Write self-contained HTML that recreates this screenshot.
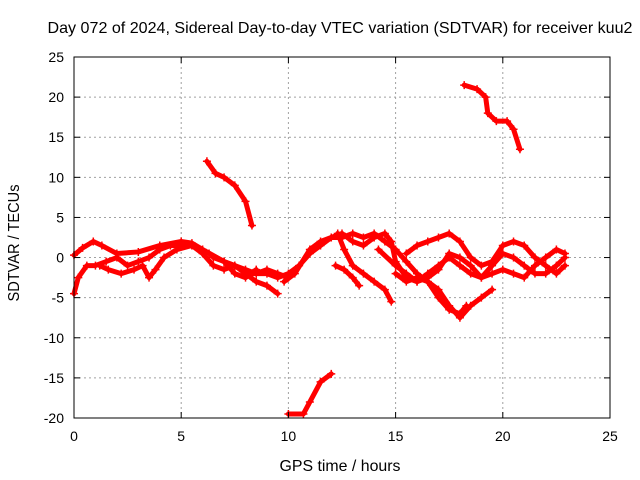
<!DOCTYPE html>
<html><head><meta charset="utf-8"><style>
body{margin:0;background:#fff;}
svg{display:block;font-family:"Liberation Sans",sans-serif;}
</style></head><body>
<svg id="chart" width="640" height="480" viewBox="0 0 640 480">
<rect width="640" height="480" fill="#fff"/>
<text x="340" y="33" font-size="16" text-anchor="middle" textLength="585" lengthAdjust="spacingAndGlyphs">Day 072 of 2024, Sidereal Day-to-day VTEC variation (SDTVAR) for receiver kuu2</text>
<text x="340" y="471" font-size="16" text-anchor="middle" textLength="121" lengthAdjust="spacingAndGlyphs">GPS time / hours</text>
<text transform="translate(19,243) rotate(-90)" font-size="16" text-anchor="middle" textLength="117" lengthAdjust="spacingAndGlyphs">SDTVAR / TECUs</text>
<g id="grid"></g><g id="series"></g><g id="axes"></g>
</svg>
<script>
const xTicks=[0,5,10,15,20,25];
const yTicks=[-20,-15,-10,-5,0,5,10,15,20,25];
const trackA=[[0,0.3],[0.4,1.2],[0.9,2],[1.3,1.5],[2,0.5],[3,0.7],[4,1.5],[5,2],[5.5,1.8],[6,1],[7,-0.5],[8,-1.5],[8.5,-2],[9,-1.5],[9.5,-2],[10,-2.5]];
const trackB=[[0,-4.5],[0.2,-2.5],[0.6,-1],[1,-1],[1.5,-0.5],[2,0],[2.5,-1],[3,-0.5],[3.5,0],[4,1],[4.5,1.5],[5,1.5],[5.5,1.5],[6,0.5],[6.5,-1],[7,-1.5],[7.5,-1],[8,-2],[8.5,-3],[9,-3.5],[9.5,-4.5]];
const trackC=[[1.2,-1],[1.6,-1.5],[2.2,-2],[2.8,-1.5],[3.2,-1],[3.5,-2.5],[3.8,-1.5],[4.2,0],[4.8,1],[5.5,1.5],[6.3,0.5],[7,-0.5],[7.5,-2],[8,-2.5],[8.5,-1.5]];
const trackD=[[6.5,0],[7.5,-1],[8.2,-2],[9,-2],[9.5,-2.5],[10,-2],[10.5,-1],[11,0.5],[11.5,1.5],[12,2.5],[12.5,3],[13,2],[13.5,1.5],[14,2.5],[14.5,3],[14.8,2],[15,-0.5],[15.5,-2.5],[16,-3],[16.5,-2.5],[17,-1.5],[17.5,0.5],[18,0],[18.5,-1],[19,-2.5],[19.5,-1],[20,0.5],[20.5,0],[21,-1],[21.5,-2],[22,-2],[22.5,-1],[22.9,0]];
const trackE=[[9.8,-3],[10.3,-2],[11,1],[11.5,2],[12,2.5],[12.5,2.5],[13,3],[13.5,2.5],[14,3],[14.5,2],[15,1],[15.5,-0.5],[16,-2],[16.5,-3],[17,-4],[17.5,-6],[18,-7.5],[18.5,-6],[19,-5],[19.5,-4]];
const trackF=[[12.3,3],[12.6,1],[13,-1],[13.5,-2],[14,-3],[14.5,-4],[14.8,-5.5]];
const trackG=[[12.2,-1],[12.6,-1.5],[13,-2.5],[13.3,-3.5]];
const trackH=[[14.2,1],[15,-1],[15.5,-2],[16,-3],[16.5,-2],[17,-1],[17.5,0],[18,-1],[18.5,-2],[19,-2.5],[19.5,-2],[20,-1.5],[20.5,-2],[21,-2.5],[21.5,-1],[22,0],[22.5,1],[22.9,0.5]];
const trackI=[[15.5,0.5],[16,1.5],[16.5,2],[17,2.5],[17.5,3],[18,2],[18.5,0],[19,-1],[19.5,-0.5],[20,1.5],[20.5,2],[21,1.5],[21.5,0],[22,-1],[22.5,-2],[22.9,-1]];
const trackJ=[[15,-2],[15.5,-3],[16,-2.5],[16.5,-3],[17,-5],[17.5,-6.5],[18,-7],[18.3,-6]];
const trackK=[[6.2,12],[6.6,10.5],[7,10],[7.5,9],[8,7],[8.3,4]];
const trackL=[[10,-19.5],[10.7,-19.5],[11,-18],[11.5,-15.5],[12,-14.5]];
const trackM=[[18.2,21.5],[18.8,21],[19.2,20],[19.3,18],[19.7,17],[20.2,17],[20.5,16],[20.8,13.5]];
const tracks=[trackA,trackB,trackC,trackD,trackE,trackF,trackG,trackH,trackI,trackJ,trackK,trackL,trackM];

const X0=74,X1=610,Y0=418,Y1=57;
const xs=v=>X0+(v-0)/(25-0)*(X1-X0);
const ys=v=>Y0-(v+20)/(45)*(Y0-Y1);
const NS='http://www.w3.org/2000/svg';
function mk(t,a,p){const e=document.createElementNS(NS,t);for(const k in a)e.setAttribute(k,a[k]);p.appendChild(e);return e;}
const grid=document.getElementById('grid'),axes=document.getElementById('axes'),ser=document.getElementById('series');
xTicks.forEach(t=>{const x=xs(t);
 if(t>0&&t<25){const g=mk('line',{x1:x,x2:x,y1:Y1,y2:Y0,stroke:'#a0a0a0','stroke-dasharray':'2,3','stroke-width':1},grid);
 }
 mk('line',{x1:x,x2:x,y1:Y0,y2:Y0-6,stroke:'#000'},axes);mk('line',{x1:x,x2:x,y1:Y1,y2:Y1+6,stroke:'#000'},axes);
 const l=mk('text',{x:x,y:Y0+23,'font-size':14,'text-anchor':'middle'},axes);l.textContent=t;
 });
yTicks.forEach(t=>{const y=ys(t);
 if(t>-20&&t<25){const g=mk('line',{x1:X0,x2:X1,y1:y,y2:y,stroke:'#a0a0a0','stroke-dasharray':'2,3','stroke-width':1},grid);
 }
 mk('line',{x1:X0,x2:X0+6,y1:y,y2:y,stroke:'#000'},axes);mk('line',{x1:X1,x2:X1-6,y1:y,y2:y,stroke:'#000'},axes);
 const l=mk('text',{x:X0-10,y:y+5,'font-size':14,'text-anchor':'end'},axes);l.textContent=t;
 });
const fr=mk('rect',{x:X0,y:Y1,width:X1-X0,height:Y0-Y1,fill:'none',stroke:'#000'},axes);

tracks.forEach(tr=>{
 const pl=mk('polyline',{points:tr.map(p=>xs(p[0])+','+ys(p[1])).join(' '),fill:'none',stroke:'#f00','stroke-width':5,'stroke-linejoin':'round','stroke-linecap':'round'},ser);
 
 tr.forEach(p=>{const x=xs(p[0]),y=ys(p[1]);
  const m=mk('path',{d:`M${x-4},${y}H${x+4}M${x},${y-4}V${y+4}`,stroke:'#f00','stroke-width':1.5},ser);
  });
});
</script>
</body></html>
